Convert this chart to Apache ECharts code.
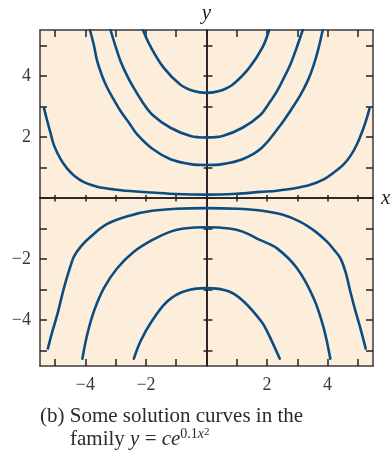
<!DOCTYPE html>
<html>
<head>
<meta charset="utf-8">
<script src="https://cdn.jsdelivr.net/npm/echarts@6/dist/echarts.min.js"></script>
<style>
  html, body { margin: 0; padding: 0; background: #ffffff; }
  #chart { width: 392px; height: 454px; }
</style>
</head>
<body>
<div id="chart"></div>
<script>
// Tick positions and labelled ticks
const xTicks = [-5, -4, -3, -2, -1, 0, 1, 2, 3, 4, 5];
const yTicks = [-5, -4, -3, -2, -1, 0, 1, 2, 3, 4, 5];
const xLabels = [-4, -2, 2, 4];
const yLabels = [-4, -2, 2, 4];

// Solution curves y = c e^{0.1 x^2}, sampled as [x, y] pairs
const curveUp1 = [[-5.37, 2.95], [-5.26, 2.52], [-5.15, 2.12], [-5.04, 1.73], [-4.82, 1.27], [-4.6, 0.96],
  [-4.38, 0.74], [-4.05, 0.52], [-3.61, 0.37], [-3.06, 0.28], [-2.4, 0.22], [-1.8, 0.18], [-1.0, 0.13],
  [0, 0.11], [1.0, 0.14], [1.78, 0.2], [2.33, 0.24], [2.88, 0.31], [3.43, 0.43], [3.87, 0.61],
  [4.2, 0.83], [4.53, 1.1], [4.75, 1.37], [4.97, 1.76], [5.19, 2.3], [5.3, 2.63], [5.39, 2.95]];
const curveUp2 = [[-3.85, 5.5], [-3.72, 5.0], [-3.61, 4.48], [-3.45, 4.0], [-3.28, 3.61], [-3.05, 3.2],
  [-2.84, 2.85], [-2.55, 2.45], [-2.29, 2.08], [-1.8, 1.62], [-1.19, 1.27], [-0.53, 1.11], [0, 1.08],
  [0.53, 1.11], [1.19, 1.27], [1.8, 1.62], [2.44, 2.38], [2.8, 2.9], [3.1, 3.37], [3.35, 3.85],
  [3.54, 4.35], [3.7, 4.9], [3.84, 5.5]];
const curveUp3 = [[-3.17, 5.5], [-3.0, 4.95], [-2.84, 4.48], [-2.62, 4.0], [-2.4, 3.6], [-2.1, 3.12],
  [-1.78, 2.72], [-1.19, 2.3], [-0.53, 2.03], [0, 1.98], [0.53, 2.03], [1.19, 2.3], [1.78, 2.72],
  [2.05, 3.08], [2.33, 3.5], [2.55, 3.92], [2.77, 4.37], [2.97, 4.9], [3.18, 5.5]];
const curveUp4 = [[-2.1, 5.5], [-1.85, 4.96], [-1.41, 4.26], [-0.86, 3.71], [-0.42, 3.5], [0, 3.44],
  [0.42, 3.5], [0.86, 3.71], [1.41, 4.26], [1.85, 4.93], [2.07, 5.5]];
const curveDown1 = [[-5.24, -4.93], [-5.1, -4.4], [-4.93, -3.82], [-4.71, -2.95], [-4.5, -2.25],
  [-4.38, -1.92], [-4.16, -1.6], [-3.83, -1.27], [-3.28, -0.85], [-2.51, -0.57], [-1.8, -0.42],
  [-1.0, -0.35], [0, -0.33], [1.0, -0.35], [1.78, -0.41], [2.5, -0.54], [3.1, -0.78], [3.6, -1.1],
  [3.98, -1.43], [4.2, -1.68], [4.42, -1.97], [4.59, -2.41], [4.75, -3.06], [4.92, -3.7],
  [5.08, -4.25], [5.26, -4.93]];
const curveDown2 = [[-4.1, -5.26], [-3.94, -4.47], [-3.72, -3.71], [-3.39, -2.95], [-2.95, -2.3],
  [-2.4, -1.76], [-1.8, -1.38], [-1.19, -1.1], [-0.75, -1.0], [0, -0.96], [0.75, -1.0], [1.19, -1.1],
  [1.78, -1.38], [2.33, -1.65], [2.99, -2.3], [3.54, -3.28], [3.87, -4.25], [4.09, -5.26]];
const curveDown3 = [[-2.4, -5.26], [-2.18, -4.69], [-1.82, -4.05], [-1.3, -3.39], [-0.75, -3.06],
  [0, -2.95], [0.75, -3.06], [1.23, -3.39], [1.82, -4.05], [2.0, -4.36], [2.42, -5.26]];

const curves = [curveUp1, curveUp2, curveUp3, curveUp4, curveDown1, curveDown2, curveDown3];

const serif = '"Liberation Serif", "Times New Roman", serif';
const ink = '#231f20';
const frameInk = '#3d3a3b';
const curveColor = '#0b4d80';
const minus = v => (v < 0 ? '\u2212' + (-v) : String(v));

const labelStyle = {
  fontFamily: serif, fontSize: 18, color: '#3a3a3a', formatter: minus
};

function baseAxis(extra) {
  return Object.assign({
    type: 'value', min: -5.5, max: 5.5,
    splitLine: { show: false },
    axisLabel: { show: false },
    axisTick: { show: false },
    axisLine: { show: false, onZero: false }
  }, extra);
}

const nameStyle = { fontFamily: serif, fontStyle: 'italic', fontSize: 21, color: ink };

const xAxes = [
  // bottom frame edge with labels
  baseAxis({
    position: 'bottom',
    axisLine: { show: true, onZero: false, lineStyle: { color: frameInk, width: 1.5 } },
    axisTick: { show: true, inside: true, length: 7, customValues: xTicks, lineStyle: { color: ink, width: 1.5 } },
    axisLabel: Object.assign({ show: true, margin: 10, customValues: xLabels }, labelStyle)
  }),
  // top frame edge
  baseAxis({
    position: 'top',
    axisLine: { show: true, onZero: false, lineStyle: { color: frameInk, width: 1.5 } },
    axisTick: { show: true, inside: true, length: 7, customValues: xTicks, lineStyle: { color: ink, width: 1.5 } }
  }),
  // x axis through the origin, ticks below the line
  baseAxis({
    position: 'bottom',
    name: 'x', nameLocation: 'end', nameGap: 8, nameTextStyle: nameStyle,
    axisLine: { show: true, onZero: true, onZeroAxisIndex: 0, lineStyle: { color: ink, width: 1.6 } },
    axisTick: { show: true, inside: false, length: 3.5, customValues: xTicks, lineStyle: { color: ink, width: 1.5 } }
  }),
  // same axis, ticks above the line
  baseAxis({
    position: 'bottom',
    axisLine: { show: true, onZero: true, onZeroAxisIndex: 0, lineStyle: { color: ink, width: 1.6 } },
    axisTick: { show: true, inside: true, length: 3, customValues: xTicks, lineStyle: { color: ink, width: 1.5 } }
  })
];

const yAxes = [
  // left frame edge with labels
  baseAxis({
    position: 'left',
    axisLine: { show: true, onZero: false, lineStyle: { color: frameInk, width: 1.5 } },
    axisTick: { show: true, inside: true, length: 7, customValues: yTicks, lineStyle: { color: ink, width: 1.5 } },
    axisLabel: Object.assign({ show: true, margin: 9, customValues: yLabels }, labelStyle)
  }),
  // right frame edge
  baseAxis({
    position: 'right',
    axisLine: { show: true, onZero: false, lineStyle: { color: frameInk, width: 1.5 } },
    axisTick: { show: true, inside: true, length: 7, customValues: yTicks, lineStyle: { color: ink, width: 1.5 } }
  }),
  // y axis through the origin, ticks to the left
  baseAxis({
    position: 'left',
    name: 'y', nameLocation: 'end', nameGap: 6, nameTextStyle: nameStyle,
    axisLine: { show: true, onZero: true, onZeroAxisIndex: 0, lineStyle: { color: ink, width: 1.6 } },
    axisTick: { show: true, inside: false, length: 3, customValues: yTicks, lineStyle: { color: ink, width: 1.5 } }
  }),
  // same axis, ticks to the right
  baseAxis({
    position: 'left',
    axisLine: { show: true, onZero: true, onZeroAxisIndex: 0, lineStyle: { color: ink, width: 1.6 } },
    axisTick: { show: true, inside: true, length: 6, customValues: yTicks, lineStyle: { color: ink, width: 1.5 } }
  })
];

const series = curves.map(pts => ({
  type: 'line',
  data: pts,
  xAxisIndex: 0,
  yAxisIndex: 0,
  smooth: 0.35,
  symbol: 'none',
  showSymbol: false,
  silent: true,
  z: 3,
  lineStyle: { color: curveColor, width: 2.6, cap: 'round', join: 'round' }
}));

const chart = echarts.init(document.getElementById('chart'), null, { renderer: 'canvas' });
chart.setOption({
  animation: false,
  backgroundColor: '#ffffff',
  grid: {
    left: 40, top: 30, width: 333, height: 336,
    show: true, backgroundColor: '#fdeedc', borderWidth: 0,
    containLabel: false, outerBoundsMode: 'none'
  },
  xAxis: xAxes,
  yAxis: yAxes,
  series: series,
  graphic: [
    {
      type: 'text', left: 40, top: 406,
      style: {
        text: '(b) Some solution curves in the',
        fontFamily: serif, fontSize: 21, fill: '#2b2b2b'
      }
    },
    {
      type: 'text', left: 70, top: 427,
      style: {
        text: '{n|family }{i|y}{n| = }{i|ce}{s|0.1}{si|x}{ss|2}',
        fill: '#2b2b2b',
        rich: {
          n: { fontFamily: serif, fontSize: 21, lineHeight: 24, fill: '#2b2b2b' },
          i: { fontFamily: serif, fontSize: 21, fontStyle: 'italic', lineHeight: 24, fill: '#2b2b2b' },
          s: { fontFamily: serif, fontSize: 14, lineHeight: 17, verticalAlign: 'top', fill: '#2b2b2b' },
          si: { fontFamily: serif, fontSize: 14, fontStyle: 'italic', lineHeight: 17, verticalAlign: 'top', fill: '#2b2b2b' },
          ss: { fontFamily: serif, fontSize: 11, lineHeight: 9, verticalAlign: 'top', fill: '#2b2b2b' }
        }
      }
    }
  ]
});
</script>
</body>
</html>
